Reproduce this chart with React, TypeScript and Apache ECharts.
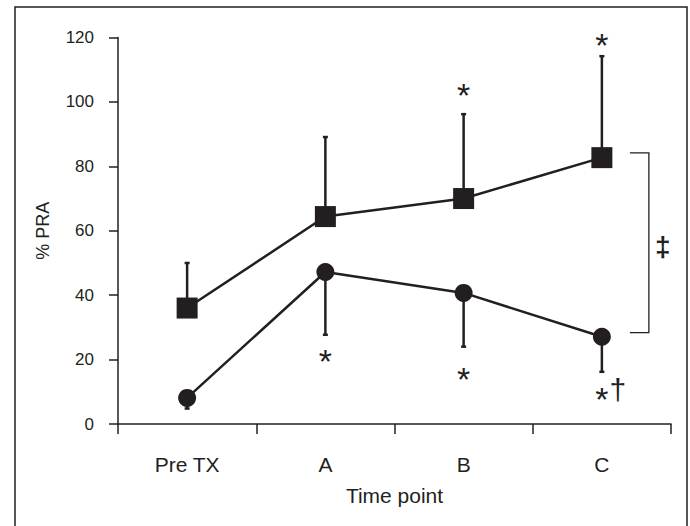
import React, { useEffect, useRef } from "react";
import * as echarts from "echarts";

const categories = ["Pre TX", "A", "B", "C"];
const squareMeans = [36.0, 64.4, 70.0, 82.7];
const squareUpper = [50.0, 89.1, 96.2, 114.2];
const circleMeans = [8.1, 47.2, 40.7, 27.1];
const circleLower = [4.8, 27.7, 24.0, 16.2];
const starCats = [3, 2, 1, 2, 3];
const starValues = [119.8, 104.3, 21.7, 16.2, 10.0];
const daggerCat = 3;
const daggerValue = 11.5;
const bracketCat = 3;
const bracketTop = 84.2;
const bracketBottom = 28.4;
const bracketMark = "‡";
const yTicks = [0, 20, 40, 60, 80, 100, 120];

const INK = "#231f20";
const FONT = "'Liberation Sans', Arial, sans-serif";

export default function App() {
  const ref = useRef<HTMLDivElement>(null);
  useEffect(() => {
    if (!ref.current) return;
    const chart = echarts.init(ref.current, undefined, { renderer: "svg" });

    const errData = [
      ...squareMeans.map((m, i) => [i, m, squareUpper[i]]),
      ...circleMeans.map((m, i) => [i, m, circleLower[i]]),
    ];

    const option: any = {
      animation: false,
      backgroundColor: "#ffffff",
      textStyle: { fontFamily: FONT, color: INK },
      grid: { left: 118, right: 19, top: 37.5, bottom: 102 },
      graphic: [
        {
          type: "rect",
          shape: { x: 15, y: 7, width: 672, height: 540 },
          style: { fill: "none", stroke: INK, lineWidth: 1.5 },
          silent: true,
        },
      ],
      xAxis: {
        type: "category",
        data: categories,
        boundaryGap: true,
        name: "Time point",
        nameLocation: "middle",
        nameGap: 61,
        nameTextStyle: { fontSize: 21, color: INK, fontFamily: FONT },
        axisLine: { lineStyle: { color: INK, width: 1.5 } },
        axisTick: { show: true, length: 10, alignWithLabel: false, interval: 0, lineStyle: { color: INK, width: 1.5 } },
        axisLabel: { fontSize: 21, color: INK, margin: 30, fontFamily: FONT, interval: 0 },
        splitLine: { show: false },
      },
      yAxis: {
        type: "value",
        min: 0,
        max: 120,
        interval: 20,
        name: "% PRA",
        nameLocation: "middle",
        nameGap: 66,
        nameRotate: 90,
        nameTextStyle: { fontSize: 18, color: INK, fontFamily: FONT },
        axisLine: { show: true, lineStyle: { color: INK, width: 1.5 } },
        axisTick: { show: true, length: 9, lineStyle: { color: INK, width: 1.5 } },
        axisLabel: {
          fontSize: 17,
          color: INK,
          margin: 24,
          fontFamily: FONT,
          formatter: (v: number) => (yTicks.includes(v) ? String(v) : ""),
        },
        splitLine: { show: false },
      },
      series: [
        {
          type: "custom",
          z: 1,
          renderItem: (params: any, api: any) => {
            const x = api.value(0);
            const p0 = api.coord([x, api.value(1)]);
            const p1 = api.coord([x, api.value(2)]);
            return {
              type: "group",
              children: [
                { type: "line", shape: { x1: p0[0], y1: p0[1], x2: p1[0], y2: p1[1] }, style: { stroke: INK, lineWidth: 2.5 } },
                { type: "line", shape: { x1: p1[0] - 2.5, y1: p1[1], x2: p1[0] + 2.5, y2: p1[1] }, style: { stroke: INK, lineWidth: 2.5 } },
              ],
            };
          },
          data: errData,
          silent: true,
        },
        {
          type: "line",
          z: 3,
          data: squareMeans,
          symbol: "rect",
          symbolSize: 21,
          lineStyle: { color: INK, width: 2.5 },
          itemStyle: { color: INK },
          silent: true,
        },
        {
          type: "line",
          z: 3,
          data: circleMeans,
          symbol: "circle",
          symbolSize: 18,
          lineStyle: { color: INK, width: 2.5 },
          itemStyle: { color: INK },
          silent: true,
        },
        {
          type: "custom",
          z: 4,
          renderItem: (params: any, api: any) => {
            const p = api.coord([api.value(0), api.value(1)]);
            return {
              type: "text",
              x: p[0],
              y: p[1] + 7,
              style: { text: "*", fontSize: 34, fontFamily: FONT, fill: INK, align: "center", verticalAlign: "middle" },
            };
          },
          data: starCats.map((c, i) => [c, starValues[i]]),
          silent: true,
        },
        {
          type: "custom",
          z: 4,
          renderItem: (params: any, api: any) => {
            const p = api.coord([api.value(0), api.value(1)]);
            return {
              type: "text",
              x: p[0] + 16,
              y: p[1] + 3,
              style: { text: "†", fontSize: 30, fontFamily: FONT, fill: INK, align: "center", verticalAlign: "middle" },
            };
          },
          data: [[daggerCat, daggerValue]],
          silent: true,
        },
        {
          type: "custom",
          z: 4,
          renderItem: (params: any, api: any) => {
            const x = api.value(0);
            const pt = api.coord([x, api.value(1)]);
            const pb = api.coord([x, api.value(2)]);
            const x1 = pt[0] + 28;
            const x2 = pt[0] + 47;
            return {
              type: "group",
              children: [
                {
                  type: "polyline",
                  shape: { points: [[x1, pt[1]], [x2, pt[1]], [x2, pb[1]], [x1, pb[1]]] },
                  style: { stroke: INK, lineWidth: 1.3, fill: "none" },
                },
                {
                  type: "text",
                  x: pt[0] + 61,
                  y: (pt[1] + pb[1]) / 2 + 4,
                  style: { text: bracketMark, fontSize: 28, fontWeight: "bold", fontFamily: FONT, fill: INK, align: "center", verticalAlign: "middle" },
                },
              ],
            };
          },
          data: [[bracketCat, bracketTop, bracketBottom]],
          silent: true,
        },
      ],
    };
    chart.setOption(option);
    return () => chart.dispose();
  }, []);
  return (
    <div
      ref={ref}
      style={{ position: "fixed", left: 0, top: 0, width: 690, height: 526, background: "#fff" }}
    />
  );
}
